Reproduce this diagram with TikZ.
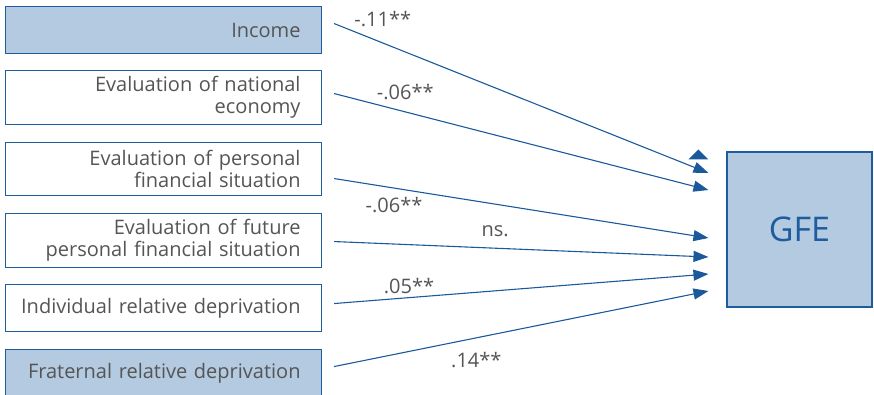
\documentclass[tikz,border=0pt]{standalone}
\usepackage{fontspec}
\setmainfont{Open Sans}
\usetikzlibrary{arrows.meta, positioning, calc}
\definecolor{FrameBlue}{HTML}{1F5C9E}
\definecolor{FillBlue}{HTML}{B3CAE0}
\definecolor{TextGrey}{HTML}{555555}
\definecolor{PathBlue}{HTML}{1A5A9C}

\begin{document}
\begin{tikzpicture}[x=1pt, y=1pt,
            pred/.style={rectangle, draw=FrameBlue, line width=1.1pt, fill=white, anchor=north west, text width=274pt, inner xsep=21pt, inner ysep=0pt, align=right, font=\fontsize{20}{22}\selectfont, text=TextGrey},
            predhi/.style={pred, fill=FillBlue},
            outcome/.style={rectangle, draw=FrameBlue, line width=1.1pt, fill=FillBlue, minimum width=145pt, minimum height=155pt, inner sep=0pt, font=\fontsize{34}{36}\selectfont, text=FrameBlue},
            arrow/.style={-{Triangle[length=15pt, width=11pt]}, line width=1.1pt, color=PathBlue},
            lbl/.style={font=\fontsize{20}{22}\selectfont, text=TextGrey, inner sep=0pt}
        ]
            \useasboundingbox (0,0) rectangle (874,-395);

            % Predictors
            \node[predhi, minimum height=47pt] (inc) at (5,-6) {Income};
            \node[pred, minimum height=54pt] (nat) at (5,-70) {Evaluation of national\\economy};
            \node[pred, minimum height=53pt] (pers) at (5,-142) {Evaluation of personal\\financial situation};
            \node[pred, minimum height=54pt] (fut) at (5,-213) {Evaluation of future\\personal financial situation};
            \node[pred, minimum height=47pt] (ind) at (5,-284) {\makebox[274pt][r]{Individual relative deprivation}};
            \node[predhi, minimum height=48pt] (frat) at (5,-349) {\makebox[274pt][r]{Fraternal relative deprivation}};

            % Outcome
            \node[outcome] (gfe) at (799.5,-229.5) {GFE};

            % Paths
            \draw[arrow] ([shift={(12,6.5)}]inc.east) -- node[lbl, pos=0.13, yshift=24pt]{-.11**} ([shift={(-18,56.5)}]gfe.west);
            \draw[arrow] ([shift={(12,4)}]nat.east) -- node[lbl, pos=0.19, yshift=20pt]{-.06**} ([shift={(-18,39.5)}]gfe.west);
            \draw[arrow] ([shift={(12,-9.5)}]pers.east) -- node[lbl, pos=0.16, yshift=-17pt]{-.06**} ([shift={(-18,-8.5)}]gfe.west);
            \draw[arrow] ([shift={(12,-1)}]fut.east) -- node[lbl, pos=0.43, yshift=17pt]{ns.} ([shift={(-18,-27.5)}]gfe.west);
            \draw[arrow] ([shift={(12,4.5)}]ind.east) -- node[lbl, pos=0.2, yshift=12pt]{.05**} ([shift={(-18,-44.5)}]gfe.west);
            \draw[arrow] ([shift={(12,7)}]frat.east) -- node[lbl, pos=0.38, yshift=-22pt]{.14**} ([shift={(-18,-61.5)}]gfe.west);

            % stray head above the paths
            \fill[PathBlue] ([shift={(-38,70)}]gfe.west) -- ([shift={(-18,70)}]gfe.west) -- ([shift={(-28,80)}]gfe.west) -- cycle;
        \end{tikzpicture}
\end{document}
